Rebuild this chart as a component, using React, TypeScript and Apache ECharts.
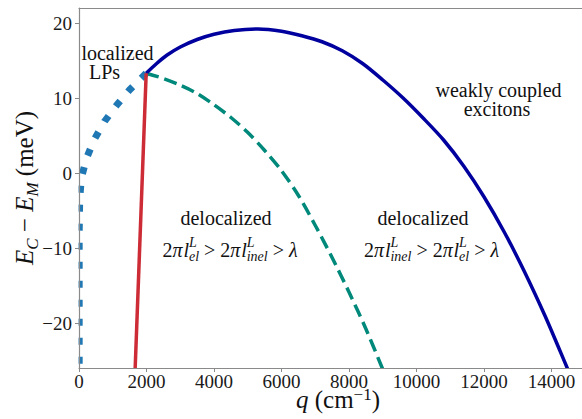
import React, { useEffect, useRef } from 'react';
import * as echarts from 'echarts';

// ---- data ----
const xTicks = [0, 2000, 4000, 6000, 8000, 10000, 12000, 14000];
const yTicks = [-20, -10, 0, 10, 20];

// weakly coupled excitons boundary (solid navy)
const coupledQ = [1990, 2300, 2600, 3000, 3500, 4000, 4600, 5300, 6000, 6600, 7200, 7800, 8400, 9000, 9600, 10200, 10800, 11400, 12000, 12600, 13200, 13800, 14200, 14500];
const coupledE = [13.3, 14.6, 15.7, 16.8, 17.8, 18.5, 19.0, 19.2, 18.9, 18.3, 17.5, 16.3, 14.6, 12.4, 10.0, 7.3, 4.4, 0.9, -3.2, -7.9, -13.2, -19.0, -23.2, -26.4];

// delocalized boundary (teal dashed)
const delocQ = [1990, 2500, 3000, 3500, 4000, 4500, 5000, 5500, 6000, 6500, 7000, 7500, 8000, 8500, 9000];
const delocE = [13.3, 12.6, 11.7, 10.6, 9.1, 7.4, 5.4, 3.0, 0.3, -3.0, -7.0, -11.3, -15.9, -20.8, -26.2];

// localized LPs boundary (blue dotted)
const localQ = [1990, 1501, 1125, 760, 444, 217, 68, 20, 5, 5];
const localE = [13.3, 11.1, 9.1, 6.9, 4.4, 1.9, -0.7, -3.5, -8, -26.5];

// red boundary
const boundaryQ = [1990, 1660];
const boundaryE = [13.3, -26.5];

const FAMILY = 'Liberation Serif';
const TEXT = '#111111';

// approximate advance widths (em/1000) of Liberation Serif
const REG: Record<string, number> = {
  ' ': 250, '(': 333, ')': 333, '>': 564, '−': 564, '2': 500, '1': 500,
  c: 444, m: 778, e: 444, V: 722,
};
const ITA: Record<string, number> = {
  E: 611, C: 667, M: 833, L: 556, l: 278, e: 444, i: 278, n: 500, q: 500, 'π': 540, 'λ': 520,
};

type Piece = { text: string; size: number; italic?: boolean; dy?: number };
type Token = Piece | { stack: Piece[] };

function measure(p: Piece): number {
  const tbl = p.italic ? ITA : REG;
  let w = 0;
  for (const ch of p.text) w += tbl[ch] ?? 500;
  return (w / 1000) * p.size;
}

function pieceEl(p: Piece, x: number, baseY: number, align = 'left') {
  const by = baseY + (p.dy || 0);
  return {
    type: 'text',
    x,
    y: by - 0.34 * p.size,
    silent: true,
    z: 20,
    style: {
      text: p.text,
      fontSize: p.size,
      fontFamily: FAMILY,
      fontStyle: p.italic ? 'italic' : 'normal',
      fill: TEXT,
      align,
      verticalAlign: 'middle',
    },
  };
}

function label(text: string, size: number, cx: number, baseY: number) {
  return pieceEl({ text, size }, cx, baseY, 'center');
}

function line(tokens: Token[], cx: number, baseY: number) {
  const widths = tokens.map((t) =>
    'stack' in t ? Math.max(...t.stack.map(measure)) : measure(t)
  );
  const total = widths.reduce((a, b) => a + b, 0);
  let x = cx - total / 2;
  const children: any[] = [];
  tokens.forEach((t, i) => {
    if ('stack' in t) t.stack.forEach((p) => children.push(pieceEl(p, x, baseY)));
    else children.push(pieceEl(t, x, baseY));
    x += widths[i];
  });
  return children;
}

const S = 20;
const s = 14;
function formula(first: string, second: string): Token[] {
  return [
    { text: '2', size: S },
    { text: 'π', size: S, italic: true },
    { text: 'l', size: S, italic: true },
    { stack: [{ text: 'L', size: s, italic: true, dy: -9 }, { text: first, size: s, italic: true, dy: 5 }] },
    { text: ' > 2', size: S },
    { text: 'π', size: S, italic: true },
    { text: 'l', size: S, italic: true },
    { stack: [{ text: 'L', size: s, italic: true, dy: -9 }, { text: second, size: s, italic: true, dy: 5 }] },
    { text: ' > ', size: S },
    { text: 'λ', size: S, italic: true },
  ];
}

export default function App() {
  const ref = useRef<HTMLDivElement>(null);
  useEffect(() => {
    if (!ref.current) return;
    const chart = echarts.init(ref.current, null, { renderer: 'svg' });
    const axisColor = '#8a8a8a';
    const pair = (q: number[], e: number[]) => q.map((v, i) => [v, e[i]]);

    const yLabel = line(
      [
        { text: 'E', size: 25, italic: true },
        { text: 'C', size: 17, italic: true, dy: 5 },
        { text: ' − ', size: 25 },
        { text: 'E', size: 25, italic: true },
        { text: 'M', size: 17, italic: true, dy: 5 },
        { text: ' (meV)', size: 25 },
      ],
      0,
      0
    );
    const xLabel = line(
      [
        { text: 'q', size: 25, italic: true },
        { text: ' (cm', size: 25 },
        { text: '−1', size: 17, dy: -8 },
        { text: ')', size: 25 },
      ],
      338,
      408
    );

    const graphics: any[] = [
      // masks that trim the thick strokes at the plot edges
      { type: 'rect', z: 5, silent: true, shape: { x: 60, y: 0, width: 18.6, height: 380 }, style: { fill: '#fff' } },
      { type: 'rect', z: 5, silent: true, shape: { x: 60, y: 368.9, width: 522, height: 3 }, style: { fill: '#fff' } },
      label('localized', S, 117.5, 60),
      label('LPs', S, 104.5, 79),
      label('weakly coupled', S, 498.5, 97),
      label('excitons', S, 497, 116),
      label('delocalized', S, 226, 225),
      label('delocalized', S, 423, 225),
      ...line(formula('el', 'inel'), 231, 256.7),
      ...line(formula('inel', 'el'), 432.5, 256.7),
      ...xLabel,
      { type: 'group', x: 33, y: 188, rotation: Math.PI / 2, children: yLabel },
    ];

    chart.setOption({
      animation: false,
      grid: { left: 79, right: 0, top: 8, bottom: 51, containLabel: false },
      xAxis: [
        {
          type: 'value',
          min: 0,
          max: 14900,
          z: 10,
          axisLine: { show: true, onZero: false, lineStyle: { color: axisColor, width: 1.2 } },
          axisTick: { show: true, length: 4, customValues: xTicks, lineStyle: { color: axisColor, width: 1 } },
          axisLabel: {
            customValues: xTicks,
            fontFamily: FAMILY,
            fontSize: 19,
            color: '#1a1a1a',
            margin: 4,
            formatter: (v: number) => String(v),
          },
          splitLine: { show: false },
        },
        {
          type: 'value',
          position: 'top',
          min: 0,
          max: 14900,
          z: 10,
          axisLine: { show: true, onZero: false, lineStyle: { color: axisColor, width: 1.2 } },
          axisTick: { show: false },
          axisLabel: { show: false },
          splitLine: { show: false },
        },
      ],
      yAxis: {
        type: 'value',
        min: -26,
        max: 22,
        z: 10,
        axisLine: { show: true, onZero: false, lineStyle: { color: axisColor, width: 1.2 } },
        axisTick: { show: true, length: 4, customValues: yTicks, lineStyle: { color: axisColor, width: 1 } },
        axisLabel: {
          customValues: yTicks,
          fontFamily: FAMILY,
          fontSize: 19,
          color: '#1a1a1a',
          margin: 7,
          formatter: (v: number) => (v < 0 ? '−' + Math.abs(v) : String(v)),
        },
        splitLine: { show: false },
      },
      series: [
        {
          type: 'line',
          data: pair(localQ, localE),
          showSymbol: false,
          smooth: false,
          lineStyle: { color: '#1f77b4', width: 7, type: [7, 12], cap: 'butt' },
        },
        {
          type: 'line',
          data: pair(delocQ, delocE),
          showSymbol: false,
          smooth: 0.3,
          lineStyle: { color: '#00897b', width: 3.5, type: [13, 6], cap: 'butt' },
        },
        {
          type: 'line',
          data: pair(coupledQ, coupledE),
          showSymbol: false,
          smooth: 0.3,
          lineStyle: { color: '#00009e', width: 3.5 },
        },
        {
          type: 'line',
          data: pair(boundaryQ, boundaryE),
          showSymbol: false,
          lineStyle: { color: '#cd2b36', width: 3.5 },
        },
      ],
      graphic: graphics,
    });
    return () => chart.dispose();
  }, []);
  return (
    <div
      ref={ref}
      style={{ position: 'fixed', left: 0, top: 0, width: 582, height: 419, background: '#fff' }}
    />
  );
}
